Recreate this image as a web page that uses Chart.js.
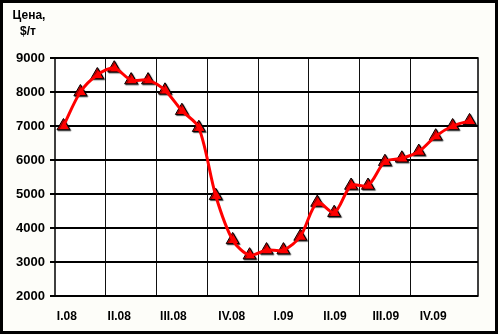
<!DOCTYPE html>
<html lang="ru">
<head>
<meta charset="UTF-8">
<title>Цена</title>
<script src="https://cdn.jsdelivr.net/npm/chart.js"></script>
<style>
  html, body { margin: 0; padding: 0; background: #fff; }
  #wrap { width: 500px; height: 335px; }
</style>
</head>
<body>
<div id="wrap"><canvas id="chart" width="500" height="335"></canvas></div>
<script>
// monthly prices, Jan 2008 .. Jan 2010
const months = ["01.08","02.08","03.08","04.08","05.08","06.08","07.08","08.08","09.08","10.08","11.08","12.08",
                "01.09","02.09","03.09","04.09","05.09","06.09","07.09","08.09","09.09","10.09","11.09","12.09","01.10"];
const prices = [7000, 8000, 8500, 8700, 8350, 8350, 8050, 7450, 6950, 4950, 3650, 3200,
                3350, 3350, 3750, 4750, 4450, 5250, 5250, 5950, 6050, 6250, 6700, 7000, 7150];

const quarterLabels = ["I.08", "II.08", "III.08", "IV.08", "I.09", "II.09", "III.09", "IV.09"];
// where each quarter label sits, in month index units
const quarterAt = [0.2, 3.3, 6.5, 9.95, 13.0, 16.05, 19.05, 21.85];
const yTicks = [2000, 3000, 4000, 5000, 6000, 7000, 8000, 9000];

const gridAt = [];
for (let i = 0; i < 8; i++) gridAt.push(i * 3 - 0.5);

const points = prices.map((p, i) => ({ x: i, y: p }));

const frame = {
  id: 'frame',
  beforeDraw(chart) {
    const ctx = chart.ctx, a = chart.chartArea;
    ctx.save();
    ctx.fillStyle = '#fdfdf9';
    ctx.fillRect(0, 0, chart.width, chart.height);
    ctx.fillStyle = '#ffffff';
    ctx.fillRect(a.left, a.top, a.right - a.left, a.bottom - a.top);
    ctx.restore();
  },
  afterDraw(chart) {
    const ctx = chart.ctx;
    ctx.save();
    ctx.strokeStyle = '#000';
    ctx.lineWidth = 3;
    ctx.strokeRect(1.5, 1.5, 495, 331);
    // title
    ctx.fillStyle = '#000';
    ctx.font = 'bold 12px "Liberation Sans", Arial, sans-serif';
    ctx.textAlign = 'center';
    ctx.textBaseline = 'alphabetic';
    ctx.fillText('Цена,', 29, 19);
    ctx.fillText('$/т', 28, 35);
    ctx.restore();
  },
  beforeDatasetsDraw(chart) {
    const ctx = chart.ctx, a = chart.chartArea;
    ctx.save();
    ctx.strokeStyle = '#000';
    ctx.lineWidth = 1.5;
    ctx.strokeRect(a.left, a.top, a.right - a.left, a.bottom - a.top);
    ctx.restore();
  },
  // drop shadow under the markers only
  beforeDatasetDraw(chart, args) {
    if (args.index !== 1) return;
    const ctx = chart.ctx;
    ctx.save();
    ctx.shadowColor = 'rgba(0,0,0,0.6)';
    ctx.shadowOffsetX = 1;
    ctx.shadowOffsetY = 1;
    ctx.shadowBlur = 1;
  },
  afterDatasetDraw(chart, args) {
    if (args.index !== 1) return;
    chart.ctx.restore();
  }
};

new Chart(document.getElementById('chart'), {
  type: 'line',
  data: {
    datasets: [{
      label: 'Цена',
      data: points,
      borderColor: '#ff0000',
      borderWidth: 3,
      tension: 0.3,
      pointRadius: 0
    }, {
      label: 'Цена (точки)',
      data: points,
      showLine: false,
      pointStyle: 'triangle',
      pointRadius: 7.5,
      pointBackgroundColor: '#ff0000',
      pointBorderColor: '#000',
      pointBorderWidth: 1
    }]
  },
  options: {
    responsive: false,
    animation: false,
    events: [],
    layout: { padding: { top: 58, right: 22, left: 0, bottom: 0 } },
    plugins: { legend: { display: false }, tooltip: { enabled: false } },
    scales: {
      x: {
        type: 'linear',
        min: -0.5,
        max: months.length - 0.5,
        afterBuildTicks(scale) {
          const t = gridAt.map(v => ({ value: v, grid: true }))
            .concat(quarterAt.map((v, i) => ({ value: v, label: quarterLabels[i] })));
          t.sort((p, q) => p.value - q.value);
          scale.ticks = t;
        },
        afterFit(scale) { scale.height = 39; },
        border: { display: false },
        grid: {
          drawTicks: false,
          color: ctx => (ctx.tick && ctx.tick.grid && ctx.tick.value > 0) ? '#111' : 'rgba(0,0,0,0)',
          lineWidth: 1
        },
        ticks: {
          autoSkip: false,
          maxRotation: 0,
          padding: 13,
          color: '#000',
          font: { family: '"Liberation Sans", Arial, sans-serif', size: 12, weight: 'bold' },
          callback(v, i, ticks) { return ticks[i].label || ''; }
        }
      },
      y: {
        min: 2000,
        max: 9000,
        afterBuildTicks(scale) { scale.ticks = yTicks.map(v => ({ value: v })); },
        afterFit(scale) { scale.width = 55; },
        border: { display: false },
        grid: { color: '#000', lineWidth: 2, tickLength: 5 },
        ticks: {
          padding: 5,
          color: '#000',
          font: { family: '"Liberation Sans", Arial, sans-serif', size: 13, weight: 'bold' },
          callback: v => String(v)
        }
      }
    }
  },
  plugins: [frame]
});
</script>
</body>
</html>
